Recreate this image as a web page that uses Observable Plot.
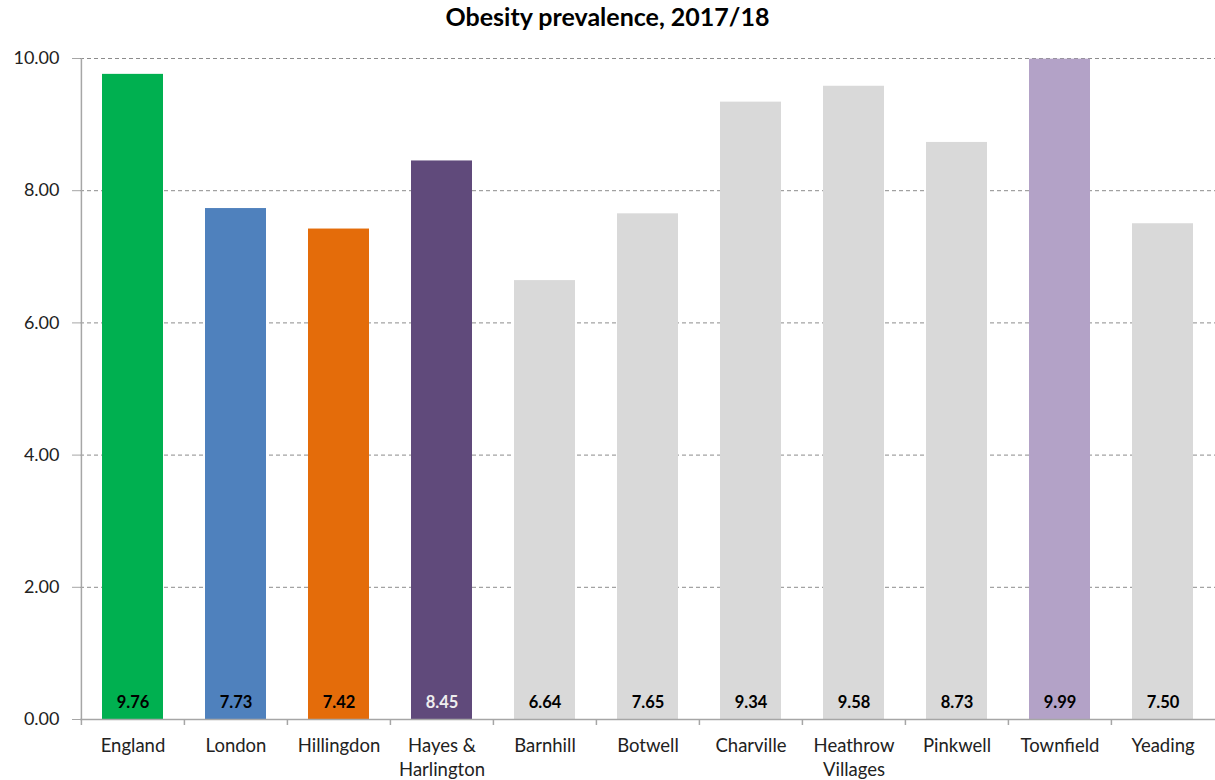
<!DOCTYPE html>
<html>
<head>
<meta charset="utf-8">
<script src="https://cdn.jsdelivr.net/npm/d3@7"></script>
<script src="https://cdn.jsdelivr.net/npm/@observablehq/plot@0.6"></script>
<style>
  html, body { margin: 0; padding: 0; background: #fff; }
  #title { font-family: Lato, "Open Sans", sans-serif; font-weight: bold; font-size: 25px; color: #000;
           text-align: center; height: 32px; line-height: 32px; width: 1215px; }
  svg { display: block; }
</style>
</head>
<body>
<div id="title">Obesity prevalence, 2017/18</div>
<div id="chart"></div>
<script>
const categories = ["England", "London", "Hillingdon", "Hayes &\nHarlington", "Barnhill", "Botwell", "Charville", "Heathrow\nVillages", "Pinkwell", "Townfield", "Yeading"];
const values = [9.76, 7.73, 7.42, 8.45, 6.64, 7.65, 9.34, 9.58, 8.73, 9.99, 7.50];
const barColors = ["#00B050", "#4F81BD", "#E46C0A", "#604A7B", "#D9D9D9", "#D9D9D9", "#D9D9D9", "#D9D9D9", "#D9D9D9", "#B3A2C7", "#D9D9D9"];
const labelColors = ["#000", "#000", "#000", "#eeeeee", "#000", "#000", "#000", "#000", "#000", "#000", "#000"];
const yTicks = [0, 2, 4, 6, 8, 10];

const data = categories.map((c, i) => ({cat: c, value: values[i], color: barColors[i], lc: labelColors[i]}));

const width = 1215, marginLeft = 80, marginRight = 0;
const halfStep = (width - marginLeft - marginRight) / categories.length / 2;

const chart = Plot.plot({
  width,
  height: 748,
  marginTop: 26,
  marginBottom: 61,
  marginLeft,
  marginRight,
  style: {fontFamily: "Lato, 'Open Sans', sans-serif", background: "#fff"},
  x: {domain: categories, paddingInner: 0.41, paddingOuter: 0.205, label: null},
  y: {domain: [0, 10], label: null},
  marks: [
    Plot.ruleY(yTicks.filter(d => d > 0), {stroke: "#8c8c8c", strokeDasharray: "4,3", strokeWidth: 1}),
    Plot.barY(data, {x: "cat", y: "value", fill: "color"}),
    Plot.ruleY([0], {stroke: "#a6a6a6", strokeWidth: 1.5}),
    Plot.ruleX([categories[0]], {x: d => d, y1: 0, y2: 10, dx: -halfStep, stroke: "#a6a6a6", strokeWidth: 1.5}),
    Plot.text(data, {x: "cat", y: 0, text: d => d.value.toFixed(2), fill: "lc", dy: -17, fontWeight: "bold", fontSize: 16.5}),
    Plot.axisY({ticks: yTicks, tickFormat: d => d.toFixed(2), tickSize: 8, tickPadding: 13, fontSize: 18, stroke: "#a6a6a6", color: "#222", label: null}),
    Plot.axisX({tickSize: 0, tickPadding: 15, fontSize: 18.5, color: "#222", lineHeight: 1.3, label: null}),
    Plot.axisX(categories, {tickSize: 6, tickFormat: () => "", stroke: "#a6a6a6", strokeWidth: 1.5, dx: -halfStep, label: null})
  ]
});
document.getElementById("chart").appendChild(chart);
</script>
</body>
</html>
